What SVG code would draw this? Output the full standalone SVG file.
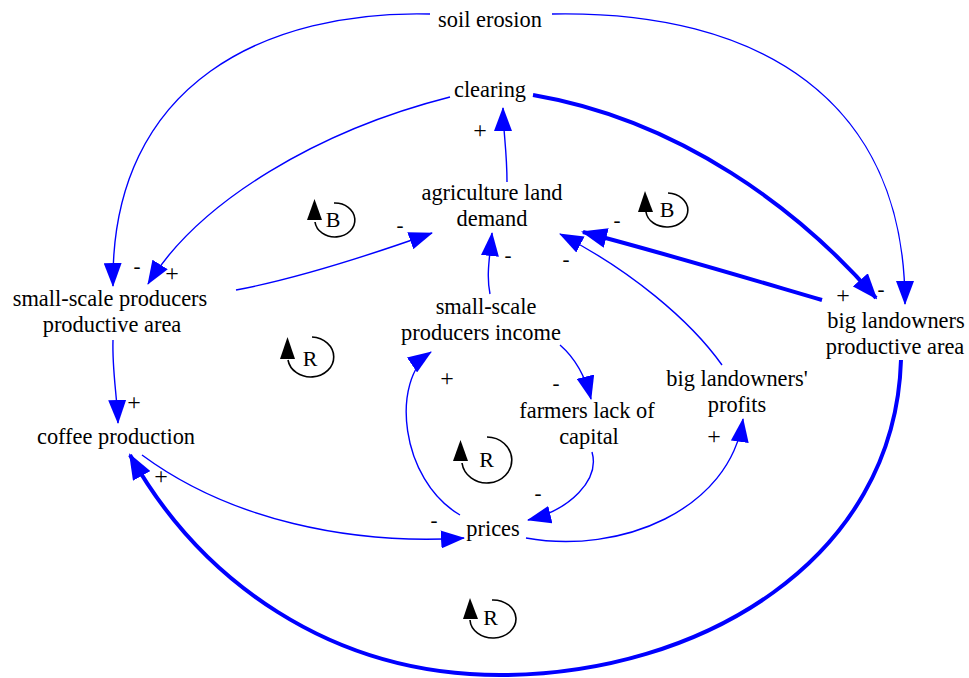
<svg xmlns="http://www.w3.org/2000/svg" width="969" height="678" viewBox="0 0 969 678" font-family="'Liberation Serif', 'DejaVu Serif', serif">
<defs>
<marker id="ah" markerUnits="userSpaceOnUse" markerWidth="24" markerHeight="18" refX="23" refY="9" orient="auto">
<path d="M0,0 L24,9 L0,18 z" fill="#0000ff"/>
</marker>
<marker id="ahT" markerUnits="userSpaceOnUse" markerWidth="26" markerHeight="20" refX="24" refY="10" orient="auto">
<path d="M0,0 L26,10 L0,20 z" fill="#0000ff"/>
</marker>
</defs>
<style>
text{font-family:'Liberation Serif','DejaVu Serif',serif;font-size:22.4px;fill:#000;text-anchor:middle}
text.pol{font-size:21px}
text.plus{font-size:24px}
.c{fill:none;stroke:#0000ff;stroke-width:1.4}
.t{fill:none;stroke:#0000ff;stroke-width:4}
.loop path.a{fill:none;stroke:#000;stroke-width:1.6}
.loop polygon{fill:#000}
.loop text{font-size:22px}
</style>
<rect width="969" height="678" fill="#fff"/>
<g id="connectors">
<path class="c" d="M430,14 C270,10 110,80 113,286" marker-end="url(#ah)"/>
<path class="c" d="M552,14 C760,10 905,100 905,304" marker-end="url(#ah)"/>
<path class="c" d="M450,97 C320,130 200,200 148,284" marker-end="url(#ah)"/>
<path class="t" d="M533,95 C680,120 800,210 876,298" marker-end="url(#ahT)"/>
<path class="c" d="M507,182 C507,150 503,130 503,108" marker-end="url(#ah)"/>
<path class="c" d="M236,290 C300,278 370,255 432,233" marker-end="url(#ah)"/>
<path class="t" d="M822,300 C740,276 660,252 583,232" marker-end="url(#ahT)"/>
<path class="c" d="M722,365 C690,320 630,270 560,234" marker-end="url(#ah)"/>
<path class="c" d="M490,294 C486,275 490,255 492,233" marker-end="url(#ah)"/>
<path class="c" d="M560,345 C575,358 585,375 591,399" marker-end="url(#ah)"/>
<path class="c" d="M592,452 C600,480 570,510 528,520" marker-end="url(#ah)"/>
<path class="c" d="M460,515 C400,480 390,380 431,352" marker-end="url(#ah)"/>
<path class="c" d="M526,538 C620,555 730,510 743,419" marker-end="url(#ah)"/>
<path class="c" d="M142,455 C230,520 350,545 464,538" marker-end="url(#ah)"/>
<path class="c" d="M113,340 C112,370 117,395 118,423" marker-end="url(#ah)"/>
<path class="t" d="M901,360 C895,560 700,675 500,675 C330,675 200,580 130,455" marker-end="url(#ahT)"/>
</g>
<g id="polarities">
<text class="pol" x="137" y="273">-</text>
<text class="pol plus" x="172" y="281">+</text>
<text class="pol" x="881" y="296">-</text>
<text class="pol plus" x="843" y="303">+</text>
<text class="pol plus" x="480" y="138">+</text>
<text class="pol" x="400" y="232">-</text>
<text class="pol" x="617" y="227">-</text>
<text class="pol" x="566" y="266">-</text>
<text class="pol" x="508" y="262">-</text>
<text class="pol" x="556" y="390">-</text>
<text class="pol" x="538" y="500">-</text>
<text class="pol plus" x="447" y="386">+</text>
<text class="pol plus" x="714" y="444">+</text>
<text class="pol plus" x="161" y="484">+</text>
<text class="pol" x="434" y="527">-</text>
<text class="pol plus" x="134" y="410">+</text>
</g>
<g id="soil-erosion"><text x="490" y="27">soil erosion</text></g>
<g id="clearing"><text x="490" y="97">clearing</text></g>
<g id="agriculture-land-demand"><text x="492" y="200">agriculture land</text><text x="492" y="226">demand</text></g>
<g id="small-scale-producers-productive-area"><text x="110" y="306">small-scale producers</text><text x="112" y="332">productive area</text></g>
<g id="big-landowners-productive-area"><text x="896" y="328">big landowners</text><text x="895" y="354">productive area</text></g>
<g id="small-scale-producers-income"><text x="486" y="314">small-scale</text><text x="481" y="340">producers income</text></g>
<g id="farmers-lack-of-capital"><text x="587" y="418">farmers lack of</text><text x="589" y="444">capital</text></g>
<g id="big-landowners-profits"><text x="737" y="386">big landowners'</text><text x="737" y="412">profits</text></g>
<g id="coffee-production"><text x="116" y="444">coffee production</text></g>
<g id="prices"><text x="493" y="536">prices</text></g>
<g id="loop-B1" class="loop">
<path class="a" d="M334,203 A20,17 0 1 1 315,222"/>
<polygon points="314.5,199 307,220 322,220"/>
<text x="333" y="227">B</text>
</g>
<g id="loop-B2" class="loop">
<path class="a" d="M668,193 A21,17 0 1 1 646,212"/>
<polygon points="645,191 638,212 653,212"/>
<text x="667" y="217">B</text>
</g>
<g id="loop-R1" class="loop">
<path class="a" d="M312,337 A23,20 0 1 1 288,360"/>
<polygon points="287.5,337 280,359 295,359"/>
<text x="310" y="366">R</text>
</g>
<g id="loop-R2" class="loop">
<path class="a" d="M487,437 A25,23 0 1 1 462,463"/>
<polygon points="460.5,440 453,461 468,461"/>
<text x="486.5" y="467">R</text>
</g>
<g id="loop-R3" class="loop">
<path class="a" d="M492,600 A23,19 0 1 1 470,620"/>
<polygon points="470,598 463,619 478,619"/>
<text x="490.5" y="625">R</text>
</g>
</svg>
